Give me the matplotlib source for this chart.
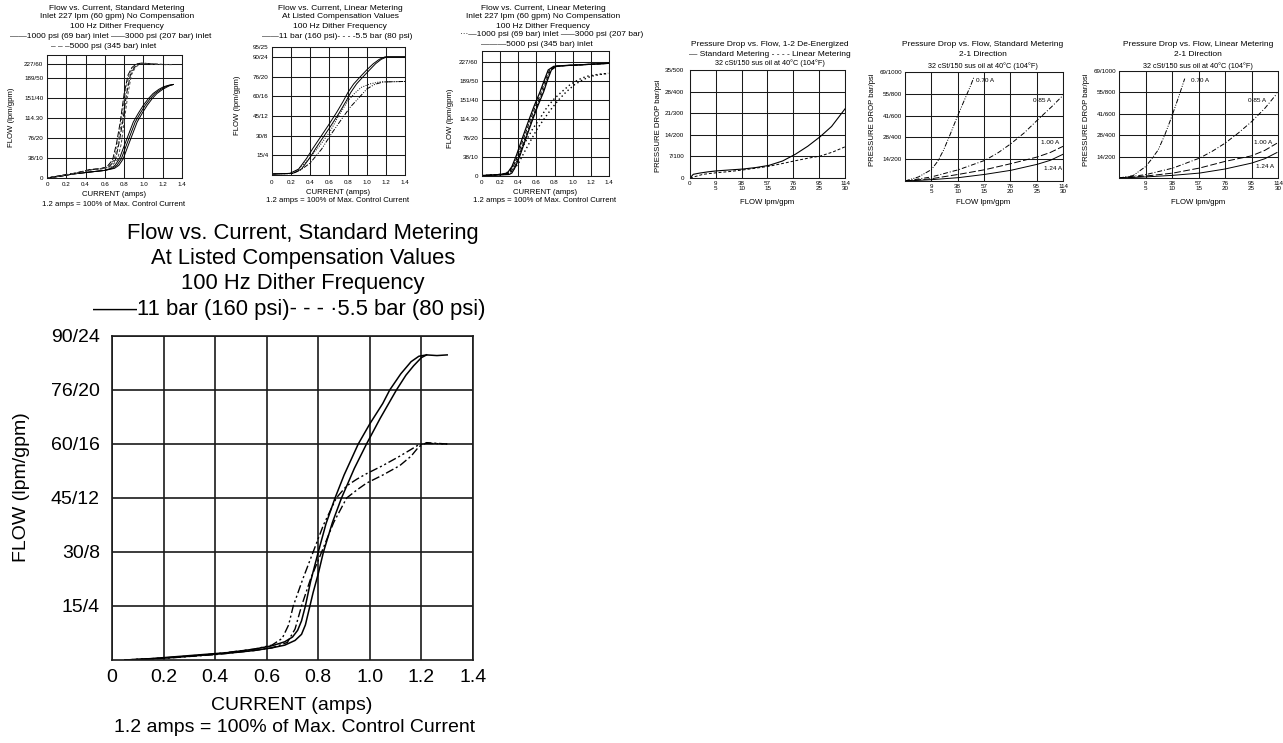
import numpy as np
import matplotlib
matplotlib.use("Agg")
import matplotlib.pyplot as plt

plt.rcParams['font.family'] = ['Liberation Sans', 'DejaVu Sans']

W, H = 1283, 743
fig = plt.figure(figsize=(W / 100, H / 100), dpi=100)

# ---------------- DATA ----------------
cur_ticks = [0, 0.2, 0.4, 0.6, 0.8, 1.0, 1.2, 1.4]
cur_labels = ['0', '0.2', '0.4', '0.6', '0.8', '1.0', '1.2', '1.4']

# Panel 1: Flow vs Current, Standard Metering, no compensation (gpm)
p1_yticks = [0, 10, 20, 30, 40, 50, 60]
p1_ylabels = ['0', '38/10', '76/20', '114.30', '151/40', '189/50', '227/60']
p1_cur_1000_a = [0.0, 0.15, 0.27, 0.45, 0.60, 0.66, 0.705, 0.75, 0.79, 0.84, 0.895, 0.95, 1.00, 1.05, 1.10, 1.16, 1.21, 1.26, 1.31]
p1_cur_1000_b = [0.0, 0.15, 0.27, 0.45, 0.60, 0.68, 0.725, 0.77, 0.81, 0.86, 0.915, 0.97, 1.02, 1.07, 1.12, 1.18, 1.23, 1.27, 1.31]
p1_cur_1000_c = [0.0, 0.15, 0.27, 0.45, 0.60, 0.70, 0.745, 0.79, 0.83, 0.88, 0.935, 0.99, 1.04, 1.09, 1.14, 1.20, 1.25, 1.28, 1.31]
p1_flow_1000 = [0.0, 1.0, 2.0, 3.0, 3.8, 4.8, 6.3, 9.5, 14.7, 21.0, 27.9, 32.5, 36.3, 39.5, 42.1, 44.2, 45.5, 46.2, 46.6]
p1_flow_high = [0.0, 2.5, 4.2, 4.6, 5.5, 9.0, 17.0, 28.0, 42.0, 52.0, 57.5, 60.3, 60.5, 60.0, 59.7]
p1_cur_3000_a = [0.0, 0.30, 0.45, 0.55, 0.62, 0.68, 0.72, 0.76, 0.80, 0.84, 0.88, 0.93, 0.98, 1.10, 1.25]
p1_cur_3000_b = [0.0, 0.30, 0.45, 0.55, 0.64, 0.71, 0.745, 0.785, 0.825, 0.865, 0.905, 0.955, 1.00, 1.12, 1.25]
p1_cur_5000_a = [0.0, 0.32, 0.47, 0.57, 0.63, 0.695, 0.735, 0.77, 0.81, 0.85, 0.89, 0.94, 0.99, 1.11, 1.28]
p1_cur_5000_b = [0.0, 0.32, 0.47, 0.57, 0.66, 0.73, 0.77, 0.80, 0.84, 0.875, 0.915, 0.965, 1.01, 1.13, 1.30]

# Panel 2: Flow vs Current, Linear Metering, compensated (gpm)
p2_yticks = [4, 8, 12, 16, 20, 24, 26]
p2_ylabels = ['15/4', '30/8', '45/12', '60/16', '76/20', '90/24', '95/25']
p2_flow_11 = [0.2, 0.3, 0.35, 1.2, 3.4, 5.4, 7.55, 10.0, 12.7, 15.0, 16.8, 18.5, 19.9, 21.4, 22.6, 23.5, 24.0, 24.0]
p2_cur_11_a = [0.0, 0.15, 0.19, 0.28, 0.365, 0.43, 0.505, 0.59, 0.68, 0.75, 0.80, 0.86, 0.926, 1.00, 1.066, 1.13, 1.19, 1.40]
p2_cur_11_b = [0.0, 0.17, 0.22, 0.31, 0.395, 0.46, 0.535, 0.62, 0.71, 0.78, 0.83, 0.89, 0.956, 1.03, 1.09, 1.15, 1.21, 1.40]
p2_cur_55_a = [0.0, 0.22, 0.30, 0.40, 0.52, 0.63, 0.72, 0.82, 0.92, 1.00, 1.08, 1.17, 1.40]
p2_flow_55_a = [0.2, 0.3, 1.0, 2.4, 5.2, 8.5, 11.0, 13.7, 15.8, 17.5, 18.4, 18.9, 19.0]
p2_cur_55_b = [0.0, 0.20, 0.28, 0.38, 0.50, 0.61, 0.70, 0.80, 0.87, 0.94, 1.03, 1.13, 1.40]
p2_flow_55_b = [0.2, 0.3, 1.2, 3.1, 5.9, 8.8, 12.0, 15.1, 16.6, 17.8, 18.5, 18.9, 19.0]

# Panel 3: Flow vs Current, Linear Metering, no compensation (gpm)
p3_yticks = [0, 10, 20, 30, 40, 50, 60]
p3_ylabels = ['0', '38/10', '76/20', '114.30', '151/40', '189/50', '227/60']
p3_flow_steep = [0.2, 0.8, 1.6, 5.0, 11.0, 20.0, 28.7, 37.0, 44.5, 51.0, 56.0, 57.9, 58.3, 58.5, 59.0, 59.5]
p3_cur_5000_a = [0.0, 0.20, 0.28, 0.33, 0.38, 0.445, 0.51, 0.575, 0.64, 0.69, 0.73, 0.79, 0.90, 1.00, 1.20, 1.40]
p3_cur_5000_b = [0.0, 0.30, 0.33, 0.37, 0.42, 0.485, 0.55, 0.615, 0.68, 0.725, 0.765, 0.82, 0.92, 1.00, 1.20, 1.40]
p3_cur_3000_a = [0.0, 0.22, 0.29, 0.345, 0.395, 0.46, 0.525, 0.59, 0.655, 0.70, 0.745, 0.80, 0.91, 1.00, 1.20, 1.40]
p3_cur_3000_b = [0.0, 0.26, 0.31, 0.36, 0.41, 0.475, 0.54, 0.605, 0.67, 0.715, 0.755, 0.81, 0.915, 1.00, 1.20, 1.40]
p3_flow_1000 = [0.2, 1.0, 3.0, 6.5, 12.9, 19.0, 25.0, 30.5, 35.8, 40.5, 44.5, 48.2, 50.8, 52.6, 53.6, 54.2]
p3_cur_1000_a = [0.0, 0.25, 0.31, 0.36, 0.42, 0.49, 0.56, 0.64, 0.71, 0.79, 0.88, 0.97, 1.06, 1.15, 1.27, 1.39]
p3_cur_1000_b = [0.0, 0.28, 0.34, 0.40, 0.47, 0.54, 0.61, 0.69, 0.77, 0.85, 0.93, 1.02, 1.11, 1.20, 1.30, 1.40]

# Panel 4: Pressure drop vs flow, 1-2 de-energized
pd_xticks = [0, 5, 10, 15, 20, 25, 30]
p4_xlabels = ['0', '9\n5', '38\n10', '57\n15', '76\n20', '95\n25', '114\n30']
p4_yticks = [0, 7, 14, 21, 28, 35]
p4_ylabels = ['0', '7/100', '14/200', '21/300', '28/400', '35/500']
p4_std_flow = [0, 0.64, 1.9, 3.5, 5.1, 7.6, 10.2, 12.8, 15.3, 17.9, 20.4, 22.8, 25.2, 27.4, 30]
p4_std_dp = [0, 1.2, 1.6, 2.0, 2.3, 2.6, 2.9, 3.4, 4.1, 5.5, 7.7, 10.3, 13.4, 16.7, 22.4]
p4_lin_flow = [0, 2.55, 5.1, 7.7, 10.2, 12.8, 15.3, 17.9, 20.4, 22.8, 25.2, 27.6, 30]
p4_lin_dp = [0, 1.2, 1.7, 2.1, 2.6, 3.2, 3.8, 4.7, 5.6, 6.4, 7.1, 8.4, 10.1]

# Panels 5 & 6: Pressure drop vs flow 2-1 direction (psi)
p56_xlabels = ['', '9\n5', '38\n10', '57\n15', '76\n20', '95\n25', '114\n30']
p56_yticks = [0, 200, 400, 600, 800, 1000]
p56_ylabels = ['', '14/200', '28/400', '41/600', '55/800', '69/1000']
p5_070_q = [0, 2.55, 5.0, 6.2, 7.3, 8.6, 9.9, 10.9, 11.8, 12.5, 13.1]
p5_070_dp = [0, 37, 104, 180, 281, 430, 587, 700, 801, 880, 954]
p5_085_q = [0, 5.0, 10.2, 15.2, 17.7, 20.1, 22.6, 25.1, 27.8, 30.0]
p5_085_dp = [0, 37, 104, 190, 260, 342, 440, 557, 679, 786]
p5_100_q = [0, 5.0, 10.2, 15.2, 20.1, 25.1, 27.6, 30.0]
p5_100_dp = [0, 21, 61, 104, 159, 220, 262, 318]
p5_124_q = [0, 5.0, 10.2, 15.2, 20.1, 25.1, 27.6, 30.0]
p5_124_dp = [0, 12, 31, 61, 98, 153, 190, 245]

p6_070_q = [0, 2.65, 5.05, 6.2, 7.4, 8.7, 9.9, 11.2, 12.4]
p6_070_dp = [0, 22, 108, 180, 263, 410, 567, 750, 929]
p6_085_q = [0, 5.0, 10.2, 15.2, 17.6, 20.0, 22.5, 25.0, 27.5, 29.8]
p6_085_dp = [0, 31, 93, 186, 250, 325, 420, 526, 650, 789]
p6_100_q = [0, 5.0, 10.2, 15.2, 20.0, 25.0, 27.5, 29.8]
p6_100_dp = [0, 18, 46, 93, 155, 207, 258, 325]
p6_124_q = [0, 5.0, 10.2, 15.2, 20.0, 25.0, 27.5, 29.8]
p6_124_dp = [0, 10, 25, 46, 84, 139, 180, 238]

# Big panel: Flow vs Current, Standard Metering, compensated (gpm)
big_yticks = [4, 8, 12, 16, 20, 24]
big_ylabels = ['15/4', '30/8', '45/12', '60/16', '76/20', '90/24']
big_cur_11_a = [0.05, 0.15, 0.25, 0.35, 0.45, 0.55, 0.62, 0.67, 0.70, 0.72, 0.735, 0.75, 0.77, 0.80, 0.83, 0.865, 0.90, 0.955, 1.00, 1.05, 1.077, 1.12, 1.16, 1.19, 1.22, 1.26, 1.30]
big_flow_11_a = [0.0, 0.1, 0.25, 0.4, 0.55, 0.8, 1.05, 1.35, 1.7, 2.2, 2.9, 4.0, 5.8, 8.0, 10.1, 12.0, 13.7, 16.0, 17.5, 19.0, 20.0, 21.2, 22.1, 22.5, 22.6, 22.55, 22.6]
big_cur_11_b = [0.05, 0.15, 0.25, 0.35, 0.45, 0.55, 0.62, 0.67, 0.71, 0.735, 0.75, 0.765, 0.78, 0.80, 0.82, 0.855, 0.89, 0.94, 0.987, 1.04, 1.103, 1.14, 1.17, 1.20, 1.22]
big_flow_11_b = [0.0, 0.08, 0.2, 0.35, 0.5, 0.7, 0.9, 1.1, 1.45, 1.9, 2.6, 3.8, 5.0, 6.4, 8.0, 10.2, 12.0, 14.2, 16.0, 17.9, 20.0, 21.1, 21.8, 22.4, 22.6]
big_cur_55_a = [0.05, 0.2, 0.4, 0.55, 0.62, 0.66, 0.685, 0.703, 0.74, 0.78, 0.82, 0.87, 0.91, 0.95, 0.987, 1.05, 1.116, 1.16, 1.19, 1.22, 1.30]
big_flow_55_a = [0.0, 0.15, 0.45, 0.8, 1.1, 1.6, 2.6, 4.0, 6.0, 8.0, 10.0, 12.0, 12.9, 13.4, 13.8, 14.4, 15.1, 15.6, 15.95, 16.05, 16.0]
big_cur_55_b = [0.05, 0.2, 0.4, 0.55, 0.62, 0.68, 0.71, 0.735, 0.77, 0.813, 0.86, 0.91, 0.95, 0.987, 1.05, 1.116, 1.16, 1.19, 1.22, 1.30]
big_flow_55_b = [0.0, 0.12, 0.4, 0.7, 0.9, 1.3, 2.3, 4.0, 6.0, 8.0, 10.2, 12.0, 12.6, 13.1, 13.7, 14.4, 15.1, 15.8, 16.1, 16.0]

# ---------------- HELPERS ----------------
GRID = '#1a1a1a'


def px_axes(l, t, r, b):
    return fig.add_axes([l / W, 1 - b / H, (r - l) / W, (b - t) / H])


def ftext(x, y, s, size, ha='center', va='center', **kw):
    fig.text(x / W, 1 - y / H, s, fontsize=size, ha=ha, va=va, **kw)


def style_axes(ax, lw, tsize, xpad, ypad):
    for sp in ax.spines.values():
        sp.set_linewidth(lw)
        sp.set_color(GRID)
    ax.grid(True, color=GRID, linewidth=lw)
    ax.set_axisbelow(True)
    ax.tick_params(length=0, labelsize=tsize)
    ax.tick_params(axis='x', pad=xpad)
    ax.tick_params(axis='y', pad=ypad)


SM = 6.0   # small title size
ST = 4.5   # small tick size
SL = 5.6   # small label size
LW = 0.7   # small line width
GLW = 0.75  # small grid width
DDOT = (0, (5, 1.5, 1, 1.5, 1, 1.5))

# ---------------- PANEL 1 ----------------
ax1 = px_axes(47, 55, 182, 178)
TRUE = [-1000, 0, 50, 60, 1000]
AXV = [-1000, 0, 50, 56.7, 996.7]
ax1.set_yscale('function', functions=(lambda v: np.interp(v, TRUE, AXV),
                                      lambda v: np.interp(v, AXV, TRUE)))
ax1.plot(p1_cur_1000_a, p1_flow_1000, color='k', lw=LW)
ax1.plot(p1_cur_1000_b, p1_flow_1000, color='k', lw=LW)
ax1.plot(p1_cur_1000_c, p1_flow_1000, color='k', lw=LW)
ax1.plot(p1_cur_3000_a, p1_flow_high, color='k', lw=LW, ls=(0, (6, 2)))
ax1.plot(p1_cur_3000_b, p1_flow_high, color='k', lw=LW, ls=(0, (6, 2)))
ax1.plot(p1_cur_5000_a, p1_flow_high, color='#444', lw=LW, ls=(0, (3, 2)))
ax1.plot(p1_cur_5000_b, p1_flow_high, color='#444', lw=LW, ls=(0, (3, 2)))
ax1.set_xlim(0, 1.4)
ax1.set_ylim(0, 64.6)
ax1.set_xticks(cur_ticks, cur_labels)
ax1.set_yticks(p1_yticks, p1_ylabels)
style_axes(ax1, GLW, ST, 3.0, 2.6)
ftext(117, 8, 'Flow vs. Current, Standard Metering', SM)
ftext(117, 17, 'Inlet 227 lpm (60 gpm) No Compensation', SM)
ftext(117, 27, '100 Hz Dither Frequency', SM)
ftext(111, 37, '\u2014\u20141000 psi (69 bar) inlet \u2013\u2013\u20133000 psi (207 bar) inlet', SM)
ftext(104, 47, '\u2013 \u2013 \u20135000 psi (345 bar) inlet', SM)
ftext(12, 117, 'FLOW (lpm/gpm)', SL, rotation=90)
ftext(114, 195, 'CURRENT (amps)', SL)
ftext(114, 204, '1.2 amps = 100% of Max. Control Current', SL)

# ---------------- PANEL 2 ----------------
ax2 = px_axes(272, 47, 405, 175)
ax2.plot(p2_cur_11_a, p2_flow_11, color='k', lw=LW)
ax2.plot(p2_cur_11_b, p2_flow_11, color='k', lw=LW)
ax2.plot(p2_cur_55_a, p2_flow_55_a, color='k', lw=LW, ls=DDOT)
ax2.plot(p2_cur_55_b, p2_flow_55_b, color='k', lw=LW, ls=(0, (1, 1.5)))
ax2.set_xlim(0, 1.4)
ax2.set_ylim(0, 26)
ax2.set_xticks(cur_ticks, cur_labels)
ax2.set_yticks(p2_yticks, p2_ylabels)
style_axes(ax2, GLW, ST, 3.3, 2.6)
ftext(340, 8, 'Flow vs. Current, Linear Metering', SM)
ftext(340, 17, 'At Listed Compensation Values', SM)
ftext(340, 27, '100 Hz Dither Frequency', SM)
ftext(337, 37, '\u2014\u201411 bar (160 psi)- - - -5.5 bar (80 psi)', SM)
ftext(238, 105, 'FLOW (lpm/gpm)', SL, rotation=90)
ftext(338, 193, 'CURRENT (amps)', SL)
ftext(338, 201, '1.2 amps = 100% of Max. Control Current', SL)

# ---------------- PANEL 3 ----------------
ax3 = px_axes(482, 51, 609, 176)
ax3.plot(p3_cur_5000_a, p3_flow_steep, color='k', lw=0.9)
ax3.plot(p3_cur_5000_b, p3_flow_steep, color='k', lw=0.9)
ax3.plot(p3_cur_3000_a, p3_flow_steep, color='k', lw=LW, ls=(0, (4, 2)))
ax3.plot(p3_cur_3000_b, p3_flow_steep, color='k', lw=LW, ls=(0, (4, 2)))
ax3.plot(p3_cur_1000_a, p3_flow_1000, color='k', lw=1.0, ls=(0, (1, 2)))
ax3.plot(p3_cur_1000_b, p3_flow_1000, color='k', lw=1.0, ls=(0, (1, 2)))
ax3.set_xlim(0, 1.4)
ax3.set_ylim(0, 66)
ax3.set_xticks(cur_ticks, cur_labels)
ax3.set_yticks(p3_yticks, p3_ylabels)
style_axes(ax3, GLW, ST, 2.8, 2.6)
ftext(543, 8, 'Flow vs. Current, Linear Metering', SM)
ftext(543, 17, 'Inlet 227 lpm (60 gpm) No Compensation', SM)
ftext(543, 27, '100 Hz Dither Frequency', SM)
ftext(552, 35, '\u00b7\u00b7\u00b7\u20141000 psi (69 bar) inlet \u2013\u2013\u20133000 psi (207 bar)', SM)
ftext(537, 44, '\u2014\u2014\u20145000 psi (345 bar) inlet', SM)
ftext(450, 118, 'FLOW (lpm/gpm)', SL, rotation=90)
ftext(545, 193, 'CURRENT (amps)', SL)
ftext(545, 201, '1.2 amps = 100% of Max. Control Current', SL)

# ---------------- PANEL 4 ----------------
ax4 = px_axes(690, 70, 845, 178)
ax4.plot(p4_std_flow, p4_std_dp, color='k', lw=0.8)
ax4.plot(p4_lin_flow, p4_lin_dp, color='k', lw=0.7, ls=(0, (3, 2)))
ax4.set_xlim(0, 30)
ax4.set_ylim(0, 35)
ax4.set_xticks(pd_xticks, p4_xlabels)
ax4.set_yticks(p4_yticks, p4_ylabels)
style_axes(ax4, GLW, ST, 2.3, 4.3)
for lab in ax4.get_xticklabels():
    lab.set_linespacing(0.85)
ftext(770, 45, 'Pressure Drop vs. Flow, 1-2 De-Energized', SM)
ftext(770, 55, '\u2014 Standard Metering - - - - Linear Metering', SM)
ftext(770, 63, '32 cSt/150 sus oil at 40\u00b0C (104\u00b0F)', 5.2)
ftext(658, 126, 'PRESSURE DROP bar/psi', SL, rotation=90)
ftext(767, 203, 'FLOW lpm/gpm', SL)

# ---------------- PANEL 5 & 6 ----------------
def pd_panel(box, title, xc, curves, labels, ylab_x):
    ax = px_axes(*box)
    styles = [DDOT, (0, (5, 2, 1, 2)), (0, (7, 2.5)), '-']
    for (q, dp), ls in zip(curves, styles):
        ax.plot(q, dp, color='k', lw=0.7, ls=ls)
    ax.set_xlim(0, 30)
    ax.set_ylim(0, 1000)
    ax.set_xticks(pd_xticks, p56_xlabels)
    ax.set_yticks(p56_yticks, p56_ylabels)
    style_axes(ax, GLW, ST, 2.3, 2.3)
    for lab in ax.get_xticklabels():
        lab.set_linespacing(0.85)
    for (lx, ly, s) in labels:
        ftext(lx, ly, s, 4.6)
    ftext(xc, 45, title, SM)
    ftext(xc, 55, '2-1 Direction', SM)
    ftext(xc, 66, '32 cSt/150 sus oil at 40\u00b0C (104\u00b0F)', 5.2)
    ftext(ylab_x, 120, 'PRESSURE DROP bar/psi', SL, rotation=90)
    ftext(xc, 203, 'FLOW lpm/gpm', SL)
    return ax


pd_panel((905, 72, 1063, 181), 'Pressure Drop vs. Flow, Standard Metering', 983,
         [(p5_070_q, p5_070_dp), (p5_085_q, p5_085_dp), (p5_100_q, p5_100_dp), (p5_124_q, p5_124_dp)],
         [(985, 81, '0.70 A'), (1042, 101, '0.85 A'), (1050, 143, '1.00 A'), (1053, 168, '1.24 A')], 872)
pd_panel((1119, 71, 1278, 178), 'Pressure Drop vs. Flow, Linear Metering', 1198,
         [(p6_070_q, p6_070_dp), (p6_085_q, p6_085_dp), (p6_100_q, p6_100_dp), (p6_124_q, p6_124_dp)],
         [(1200, 80, '0.70 A'), (1257, 100, '0.85 A'), (1263, 142, '1.00 A'), (1265, 167, '1.24 A')], 1087)

# ---------------- BIG PANEL ----------------
axb = px_axes(112, 336, 473, 660)
axb.plot(big_cur_11_a, big_flow_11_a, color='k', lw=1.1)
axb.plot(big_cur_11_b, big_flow_11_b, color='k', lw=1.1)
axb.plot(big_cur_55_a, big_flow_55_a, color='k', lw=1.0, ls=(0, (6, 2, 1.5, 2, 1.5, 2)))
axb.plot(big_cur_55_b, big_flow_55_b, color='k', lw=1.0, ls=(0, (6, 2, 1.5, 2)))
axb.set_xlim(0, 1.4)
axb.set_ylim(0, 24)
axb.set_xticks(cur_ticks, cur_labels)
axb.set_yticks(big_yticks, big_ylabels)
style_axes(axb, 1.2, 14, 6.3, 8.8)
ftext(303, 233, 'Flow vs. Current, Standard Metering', 15.8)
ftext(303, 259, 'At Listed Compensation Values', 15.8)
ftext(303, 284, '100 Hz Dither Frequency', 15.8)
ftext(289, 309, '\u2014\u201411 bar (160 psi)- - - \u00b75.5 bar (80 psi)', 15.8)
ftext(22, 487, 'FLOW (lpm/gpm)', 14, rotation=90)
ftext(292, 705, 'CURRENT (amps)', 14)
ftext(295, 728, '1.2 amps = 100% of Max. Control Current', 14)

fig.savefig('out.png', dpi=100)
